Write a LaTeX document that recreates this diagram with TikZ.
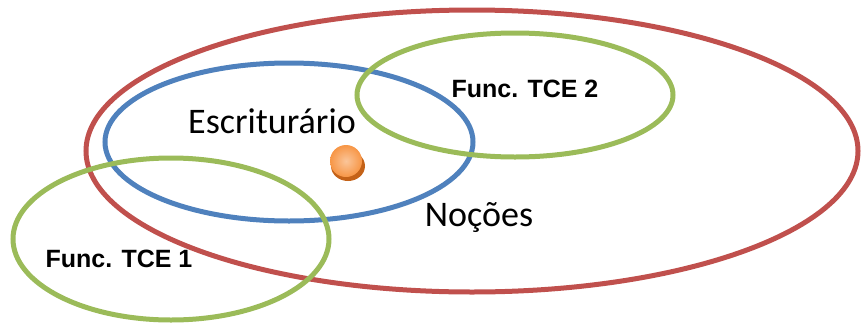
\documentclass[tikz,border=0pt]{standalone}
\usepackage{fontspec}
\usepackage{tikz}
\usetikzlibrary{positioning}
\newfontfamily\calibfont{Carlito}
\newfontfamily\tcefont{Liberation Sans}
\definecolor{setred}{RGB}{192, 80, 77}
\definecolor{setblue}{RGB}{79, 129, 189}
\definecolor{setgreen}{RGB}{155, 187, 89}
\definecolor{ballorange}{RGB}{247, 150, 70}
\definecolor{balldark}{RGB}{196, 98, 24}
\tikzset{
	setline/.style = {line width=5pt},
	biglabel/.style = {font=\calibfont\fontsize{36}{40}\selectfont, text=black, inner sep=0pt},
	funclabel/.style = {font=\tcefont\bfseries\fontsize{25}{28}\selectfont, text=black, inner sep=0pt}
}

\begin{document}
\begin{tikzpicture}[x=1pt, y=-1pt]
    \useasboundingbox (0,0) rectangle (862,327);

    \draw[setline, setred] (472,151) ellipse (386 and 141);
    \draw[setline, setblue] (289,142) ellipse (184 and 79);
    \draw[setline, setgreen] (515,95) ellipse (158 and 62);
    \draw[setline, setgreen] (171,239) ellipse (158 and 81);

    % ball in the middle
    \fill[balldark] (348,166) ellipse (17 and 15);
    \shade[inner color=ballorange!55!white, outer color=ballorange] (346,161) circle (16);

    \node[biglabel, anchor=base] (escr) at (272,133) {Escriturário};
    \node[biglabel, anchor=base] (nocoes) at (479,226) {Noções};
    \node[funclabel, anchor=base] (tce2) at (525,97) {Func. TCE 2};
    \node[funclabel, anchor=base] (tce1) at (119,267) {Func. TCE 1};
\end{tikzpicture}
\end{document}
